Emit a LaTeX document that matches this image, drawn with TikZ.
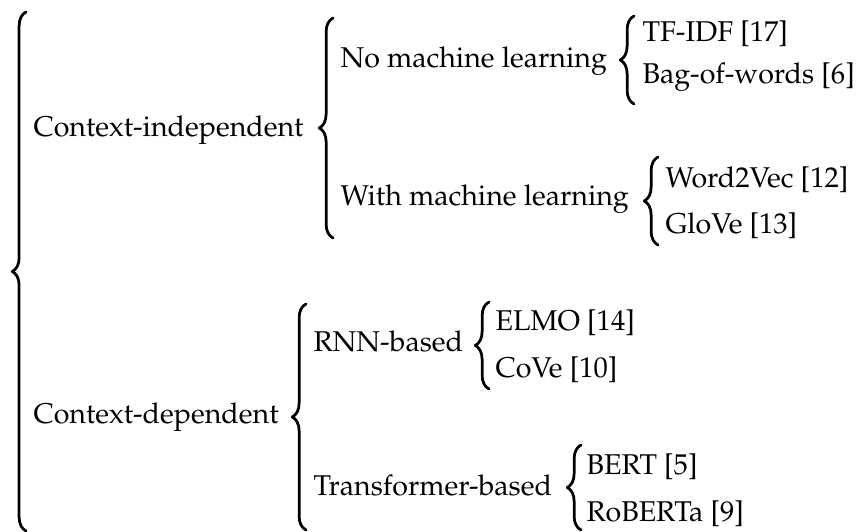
\documentclass[tikz,border=0pt]{standalone}
\usepackage[T1]{fontenc}
\usepackage{mathpazo}
\usetikzlibrary{decorations.pathreplacing}

\begin{document}
\begin{tikzpicture}[x=0.3636pt,y=-0.3636pt,line cap=round,line join=round,
  brc/.style={decorate,decoration={brace,amplitude=5pt},line width=1pt},
  txt/.style={anchor=base west,inner sep=0pt,font=\fontsize{10.4}{12.5}\selectfont}]
  \useasboundingbox (0,0) rectangle (860,532);
  % first level
  \node[txt] (ci) at (33,137) {Context-independent};
  \node[txt] (cd) at (33,424) {Context-dependent};
  % second level
  \node[txt] (nml) at (340,68) {No machine learning};
  \node[txt] (wml) at (340,206) {With machine learning};
  \node[txt] (rnn) at (313,352) {RNN-based};
  \node[txt] (trf) at (313,496) {Transformer-based};
  % leaves
  \node[txt] (tfidf) at (642,42) {TF-IDF [17]};
  \node[txt] (bow) at (642,84) {Bag-of-words [6]};
  \node[txt] (w2v) at (665,188) {Word2Vec [12]};
  \node[txt] (glove) at (665,234) {GloVe [13]};
  \node[txt] (elmo) at (495,331) {ELMO [14]};
  \node[txt] (cove) at (495,378) {CoVe [10]};
  \node[txt] (bert) at (586,475) {BERT [5]};
  \node[txt] (roberta) at (586,522) {RoBERTa [9]};
  % brace ends
  \coordinate (all-b) at (26,531);   \coordinate (all-t) at (26,12);
  \coordinate (ci-b) at (333,238);   \coordinate (ci-t) at (333,18);
  \coordinate (nml-b) at (634,104);  \coordinate (nml-t) at (634,16);
  \coordinate (wml-b) at (658,245);  \coordinate (wml-t) at (658,157);
  \coordinate (cd-b) at (306,530);   \coordinate (cd-t) at (306,304);
  \coordinate (rnn-b) at (489,389);  \coordinate (rnn-t) at (489,302);
  \coordinate (trf-b) at (581,530);  \coordinate (trf-t) at (581,445);
  \draw[brc] (all-b) -- (all-t);
  \draw[brc] (ci-b) -- (ci-t);
  \draw[brc] (nml-b) -- (nml-t);
  \draw[brc] (wml-b) -- (wml-t);
  \draw[brc] (cd-b) -- (cd-t);
  \draw[brc] (rnn-b) -- (rnn-t);
  \draw[brc] (trf-b) -- (trf-t);
\end{tikzpicture}
\end{document}
